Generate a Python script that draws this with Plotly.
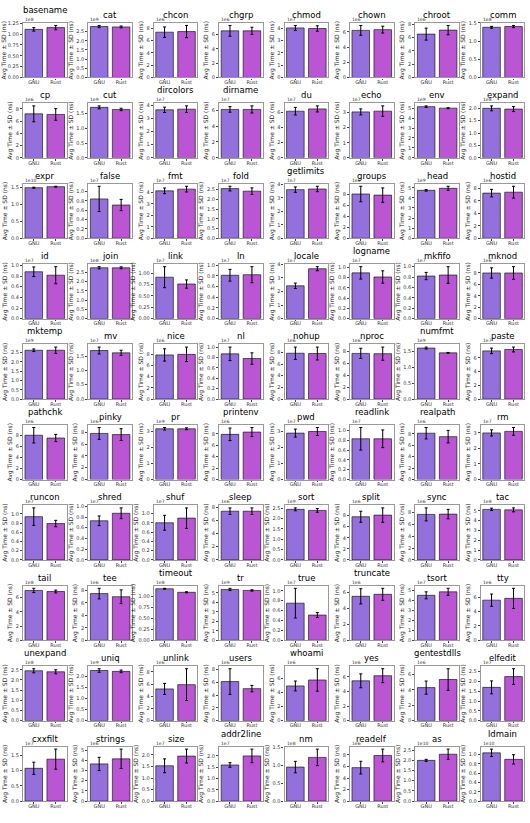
import plotly.graph_objects as go

names = ["basename", "cat", "chcon", "chgrp", "chmod", "chown", "chroot", "comm",
         "cp", "cut", "dircolors", "dirname", "du", "echo", "env", "expand",
         "expr", "false", "fmt", "fold", "getlimits", "groups", "head", "hostid",
         "id", "join", "link", "ln", "locale", "logname", "mkfifo", "mknod",
         "mktemp", "mv", "nice", "nl", "nohup", "nproc", "numfmt", "paste",
         "pathchk", "pinky", "pr", "printenv", "pwd", "readlink", "realpath", "rm",
         "runcon", "shred", "shuf", "sleep", "sort", "split", "sync", "tac",
         "tail", "tee", "timeout", "tr", "true", "truncate", "tsort", "tty",
         "unexpand", "uniq", "unlink", "users", "whoami", "yes", "gentestdlls", "elfedit",
         "cxxfilt", "strings", "size", "addr2line", "nm", "readelf", "as", "ldmain"]

# power-of-ten offset shown on each y axis (e.g. "1e8")
exponents = [8, 9, 6, 6, 7, 6, 6, 8,
             6, 9, 7, 7, 7, 7, 9, 8,
             10, 7, 7, 7, 7, 6, 9, 6,
             7, 8, 7, 7, 7, 7, 7, 6,
             9, 7, 6, 7, 6, 6, 9, 7,
             6, 6, 9, 6, 7, 7, 6, 7,
             7, 7, 7, 6, 9, 6, 6, 8,
             8, 6, 8, 9, 7, 6, 7, 6,
             8, 9, 6, 6, 6, 6, 6, 7,
             7, 6, 7, 7, 8, 6, 10, 10]

# mean times (ns), expressed as mantissa x 10^exponent
gnu_mean = [1.11, 2.78, 7.4, 6.5, 4.05, 6.2, 6.5, 1.38,
            7.2, 1.70, 3.65, 6.1, 6.15, 3.05, 5.15, 2.0,
            1.48, 0.84, 4.15, 2.55, 3.6, 8.0, 4.75, 7.25,
            0.88, 2.75, 0.91, 0.81, 2.42, 0.89, 0.82, 8.0,
            2.62, 1.69, 7.9, 0.87, 7.85, 7.6, 1.60, 7.0,
            8.0, 7.8, 3.15, 7.9, 2.9, 0.83, 8.1, 3.0,
            0.94, 0.73, 0.80, 7.4, 2.45, 7.8, 7.7, 5.15,
            7.0, 7.5, 1.17, 5.35, 0.75, 5.5, 4.5, 5.6,
            2.45, 2.28, 5.2, 6.1, 4.95, 5.45, 4.3, 1.7,
            1.08, 3.65, 1.53, 1.6, 0.95, 5.8, 2.0, 1.04]
gnu_sd = [0.04, 0.06, 0.85, 0.75, 0.2, 0.65, 0.9, 0.025,
          1.3, 0.05, 0.2, 0.35, 0.5, 0.2, 0.08, 0.1,
          0.015, 0.27, 0.25, 0.12, 0.2, 1.4, 0.08, 0.6,
          0.09, 0.06, 0.23, 0.11, 0.2, 0.12, 0.07, 0.9,
          0.07, 0.12, 1.1, 0.13, 1.05, 0.85, 0.03, 0.4,
          1.4, 1.0, 0.08, 1.1, 0.25, 0.23, 1.0, 0.2,
          0.19, 0.09, 0.16, 0.5, 0.07, 1.0, 1.1, 0.12,
          0.3, 0.85, 0.01, 0.12, 0.30, 0.95, 0.35, 0.85,
          0.1, 0.08, 0.9, 2.0, 0.7, 0.95, 0.85, 0.33,
          0.2, 0.65, 0.3, 0.1, 0.16, 1.1, 0.05, 0.08]
rust_mean = [1.15, 2.76, 7.5, 6.5, 4.0, 6.3, 7.1, 1.40,
             7.1, 1.63, 3.7, 6.1, 6.45, 3.1, 5.0, 1.97,
             1.51, 0.71, 4.3, 2.42, 3.65, 7.8, 4.95, 7.4,
             0.815, 2.75, 0.76, 0.82, 3.68, 0.81, 0.84, 8.0,
             2.62, 1.61, 8.0, 0.78, 7.8, 7.55, 1.45, 7.2,
             7.5, 7.6, 3.15, 8.3, 3.0, 0.83, 7.5, 3.1,
             0.79, 0.87, 0.90, 7.4, 2.40, 8.1, 7.75, 5.1,
             6.85, 7.0, 1.09, 5.25, 0.51, 5.75, 4.85, 5.85,
             2.4, 2.24, 5.9, 5.0, 5.8, 6.15, 5.35, 2.25,
             1.38, 4.15, 1.95, 2.0, 1.22, 7.9, 2.3, 0.90]
rust_sd = [0.05, 0.05, 1.0, 0.5, 0.22, 0.45, 0.7, 0.03,
           0.95, 0.04, 0.25, 0.45, 0.4, 0.35, 0.05, 0.1,
           0.012, 0.12, 0.25, 0.17, 0.2, 1.3, 0.2, 0.95,
           0.16, 0.05, 0.09, 0.15, 0.15, 0.12, 0.16, 1.1,
           0.17, 0.09, 1.3, 0.11, 1.1, 1.1, 0.012, 0.35,
           0.65, 1.0, 0.06, 0.8, 0.25, 0.18, 1.1, 0.25,
           0.07, 0.10, 0.22, 0.5, 0.09, 1.3, 0.8, 0.2,
           0.2, 1.1, 0.012, 0.07, 0.05, 0.75, 0.35, 1.4,
           0.1, 0.06, 2.6, 0.5, 1.6, 0.95, 1.4, 0.4,
           0.33, 0.95, 0.3, 0.3, 0.23, 1.1, 0.25, 0.1]

# y tick spacing (in mantissa units)
tick_steps = [0.25, 0.5, 2, 2, 1, 2, 2, 0.5,
              2, 0.5, 1, 2, 2, 1, 1, 0.5,
              0.5, 0.2, 1, 0.5, 1, 2, 1, 2,
              0.2, 0.5, 0.25, 0.2, 1, 0.2, 0.2, 2,
              0.5, 0.5, 2, 0.2, 2, 2, 0.5, 2,
              2, 2, 1, 2, 1, 0.2, 2, 1,
              0.2, 0.2, 0.2, 2, 0.5, 2, 2, 1,
              2, 2, 0.25, 1, 0.2, 2, 1, 2,
              0.5, 0.5, 2, 2, 2, 2, 2, 0.5,
              0.5, 1, 0.5, 0.5, 0.5, 2, 0.5, 0.2]

implementations = ["GNU", "Rust"]
y_label = "Avg Time ± SD (ns)"

# titles pushed up above the offset text (as matplotlib does)
raised_titles = {"basename", "dircolors", "dirname", "getlimits", "logname", "mktemp",
                 "numfmt", "pathchk", "printenv", "readlink", "realpath", "timeout",
                 "truncate", "unexpand", "whoami", "gentestdlls", "addr2line", "ldmain"}

W, H = 530, 823
NCOL = 8
col_left0, col_pitch, ax_w = 23.0, 65.4, 43.5
row_top0, row_pitch, ax_h = 20.0, 81.0, 55.0
FONT = "DejaVu Sans"
colors = ["#9370DB", "#BA55D3"]

fig = go.Figure()
layout = dict(width=W, height=H, margin=dict(l=0, r=0, t=0, b=0),
              paper_bgcolor="white", plot_bgcolor="white", showlegend=False,
              font=dict(family=FONT, color="#222"), bargap=0.2)
annotations = []

for i, name in enumerate(names):
    r, c = divmod(i, NCOL)
    n = i + 1
    sfx = "" if n == 1 else str(n)
    scale = 10.0 ** exponents[i]
    g, gs, ru, rs = gnu_mean[i], gnu_sd[i], rust_mean[i], rust_sd[i]
    fig.add_trace(go.Bar(
        x=implementations, y=[g * scale, ru * scale], width=0.8,
        marker=dict(color=colors, line=dict(color="rgba(0,0,0,0.75)", width=0.8)),
        error_y=dict(type="data", array=[gs * scale, rs * scale], color="black",
                     thickness=1, width=1.5),
        xaxis="x" + sfx, yaxis="y" + sfx, hoverinfo="skip"))

    left = col_left0 + c * col_pitch
    top = row_top0 + r * row_pitch
    xd = [left / W, (left + ax_w) / W]
    yd = [1 - (top + ax_h) / H, 1 - top / H]
    ymax = max(g + gs, ru + rs) * 1.05
    step = tick_steps[i]
    nt = int(ymax / step + 1e-9)
    ticks = [k * step for k in range(nt + 1)]
    dec = 2 if abs(step * 4 - round(step * 4)) < 1e-9 and step % 0.5 else (1 if step < 1 else 0)
    ttext = [f"{t:.{dec}f}" for t in ticks]

    layout["xaxis" + sfx] = dict(
        domain=xd, anchor="y" + sfx, type="category", range=[-0.49, 1.49],
        showline=True, mirror=True, linecolor="#9a9a9a", linewidth=1.3,
        ticks="outside", ticklen=1.5, tickwidth=0.7, tickcolor="#444",
        ticklabelstandoff=-2,
        tickfont=dict(size=5, color="#333", family=FONT), showgrid=False, fixedrange=True)
    layout["yaxis" + sfx] = dict(
        domain=yd, anchor="x" + sfx, range=[0, ymax * scale],
        tickvals=[t * scale for t in ticks], ticktext=ttext,
        showline=True, mirror=True, linecolor="#9a9a9a", linewidth=1.3,
        ticks="outside", ticklen=2, tickwidth=0.7, tickcolor="#444",
        tickfont=dict(size=5, color="#333", family=FONT), showgrid=False, zeroline=False,
        title=dict(text=y_label, font=dict(size=6, color="#222", family=FONT), standoff=2),
        fixedrange=True)

    annotations.append(dict(
        text=name, xref=f"x{sfx} domain", yref=f"y{sfx} domain", x=0.5, y=1,
        xanchor="center", yanchor="bottom", yshift=6 if name in raised_titles else 1,
        showarrow=False, font=dict(size=8.5, color="black", family=FONT)))
    annotations.append(dict(
        text=f"1e{exponents[i]}", xref=f"x{sfx} domain", yref=f"y{sfx} domain", x=0, y=1,
        xanchor="left", yanchor="bottom", yshift=-1, showarrow=False,
        font=dict(size=4.5, color="#333", family=FONT)))

layout["annotations"] = annotations
fig.update_layout(**layout)
fig.write_html("out.html")
